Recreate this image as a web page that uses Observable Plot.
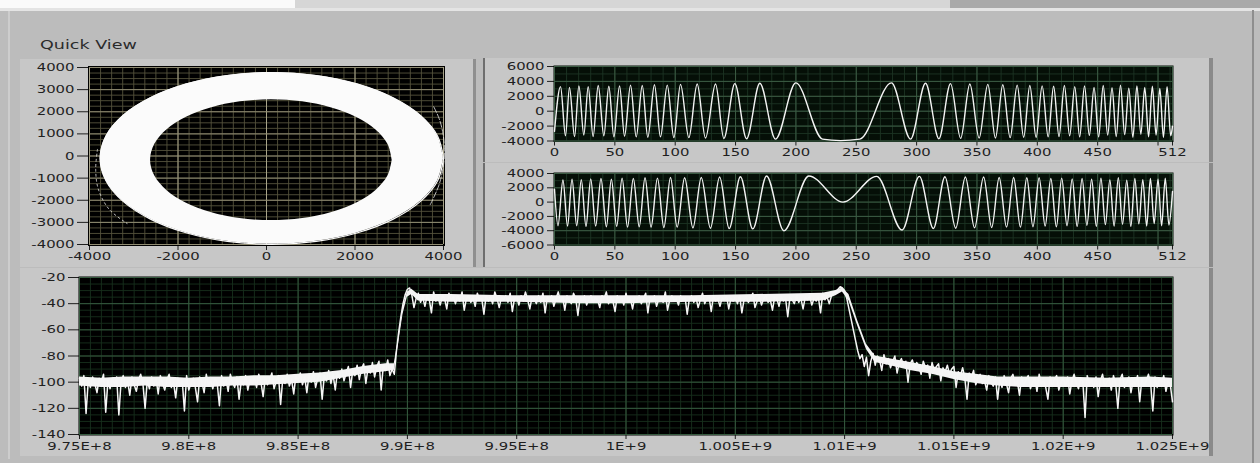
<!DOCTYPE html>
<html><head><meta charset="utf-8">
<script src="https://cdn.jsdelivr.net/npm/d3@7"></script>
<script src="https://cdn.jsdelivr.net/npm/@observablehq/plot@0.6"></script>
<style>
html,body{margin:0;padding:0;background:#bdbdbd;}
#root{position:relative;width:1260px;height:463px;overflow:hidden;background:#bcbcbc;font-family:"DejaVu Sans",sans-serif;}
.blk{position:absolute;}
</style></head>
<body><div id="root"></div>
<script>
// ---------------- DATA ----------------
// IQ constellation ring: outer and inner boundary points, closed loop
const iqOuterX = [4000,3868,3480,2863,2060,1125,120,-885,-1820,-2623,-3240,-3628,-3760,-3628,-3240,-2623,-1820,-885,120,1125,2060,2863,3480,3868,4000];
const iqOuterY = [-110,895,1830,2633,3250,3638,3770,3638,3250,2633,1830,895,-110,-1115,-2050,-2853,-3470,-3858,-3990,-3858,-3470,-2853,-2050,-1115,-110];
const iqInnerX = [2840,2747,2474,2040,1475,817,110,-597,-1255,-1820,-2254,-2527,-2620,-2527,-2254,-1820,-1255,-597,110,817,1475,2040,2474,2747,2840];
const iqInnerY = [-190,517,1175,1740,2174,2447,2540,2447,2174,1740,1175,517,-190,-897,-1555,-2120,-2554,-2827,-2920,-2827,-2554,-2120,-1555,-897,-190];
// stray traces just outside the ring (right side and lower left)
const iqTraceX = [3700,3900,4000,4020,3990,3900,3760];
const iqTraceY = [-2200,-1300,-400,300,1000,1700,2300];
const iqTrace2X = [-3820,-3860,-3800,-3560,-3150];
const iqTrace2Y = [300,-600,-1500,-2400,-3050];
const iqXTicks = [-4000,-2000,0,2000,4000];
const iqYTicks = [-4000,-3000,-2000,-1000,0,1000,2000,3000,4000];

// Time-domain waveform 1 (I): sample index of each turning point, and its value
const wave1Idx = [0,5,9.1,12.4,16.6,20.2,24.3,27.9,32,36.2,40.9,45,49.2,53.9,58,63,67.7,72.7,77.3,82.8,87.8,93.4,98.9,104.4,111.3,118.2,125.1,133.4,140.3,149.4,159.1,170.1,183.1,199.9,222,237,253,279.2,295,307.4,318.5,328.1,336.5,344.1,351.8,359,365.3,371.4,377.5,383.3,388.7,393.8,399,404,409,413.5,418,422.4,426.8,431,435.1,439.1,443.1,447,450.8,454.6,458.3,461.9,465.4,468.9,472.4,475.8,479.2,482.5,485.8,489,492.2,495.3,498.4,501.5,504.5,507.5,510.5,512];
const wave1Val = [-2700,3300,-3300,3200,-3400,3400,-3200,3300,-3400,3450,-3300,3350,-3450,3400,-3350,3500,-3450,3450,-3500,3550,-3450,3500,-3550,3600,-3550,3650,-3600,3650,-3650,3700,-3700,3750,-3750,3800,-3750,-3950,-3750,3800,-3750,3750,-3700,3700,-3650,3650,-3600,3600,-3600,3550,-3550,3500,-3500,3450,-3500,3400,-3450,3350,-3400,3450,-3300,3300,-3450,3400,-3250,3200,-3450,3450,-3200,3150,-3400,3500,-3150,3100,-3500,3400,-3100,3200,-3450,3350,-3200,3050,-3500,3300,-3300,-2000];
// Time-domain waveform 2 (Q)
const wave2Idx = [0,2.9,7,10.8,14.5,18.4,22.2,26.1,30,34.1,38.5,43,47.1,51.5,56,60.5,65.3,70.2,75,80,85.3,90.6,96.1,101.6,107.8,114.7,121.6,129.2,136.8,144.7,154,164.3,175.7,190,210.7,239,267,288,302.3,313.9,323.5,332.4,340.4,348,355.5,362.2,368.4,374.5,380.4,386,391.3,396.4,401.5,406.5,411.2,415.8,420.2,424.6,428.9,433,437.1,441.1,445,448.9,452.7,456.4,460.1,463.6,467.1,470.6,474.1,477.5,480.8,484.1,487.4,490.6,493.7,496.8,500,503,506,509,512];
const wave2Val = [1800,-3300,3100,-3350,3200,-3300,3150,-3400,3250,-3350,3300,-3450,3200,-3400,3350,-3500,3300,-3450,3400,-3500,3350,-3550,3450,-3500,3400,-3600,3450,-3650,3500,-3700,3550,-3750,3650,-4000,3650,0,3600,-3900,3600,-3700,3550,-3650,3500,-3600,3500,-3550,3450,-3500,3450,-3500,3400,-3450,3400,-3350,3300,-3450,3350,-3300,3250,-3400,3300,-3250,3200,-3400,3350,-3150,3100,-3350,3400,-3100,3050,-3400,3300,-3050,3150,-3350,3300,-3000,3200,-3300,3350,-3200,1500];
const waveXTicks = [0,50,100,150,200,250,300,350,400,450,500,512];
const waveXLabels = ["0","50","100","150","200","250","300","350","400","450","","512"];
const wave1YTicks = [-4000,-2000,0,2000,4000,6000];
const wave2YTicks = [-6000,-4000,-2000,0,2000,4000];

// Spectrum (dB), one value per 100 kHz bin starting at 975 MHz
const specStartHz = 9.75e8;
const specStepHz = 1e5;
const specDb = [
-97,-103,-95,-124,-99,-104,-96,-101,-108,-97,-100,-94,-123,-99,-105,-97,-102,-96,-125,-100,
-95,-104,-99,-110,-96,-102,-107,-98,-94,-101,-120,-99,-105,-96,-103,-97,-109,-95,-101,-106,
-98,-94,-104,-100,-112,-97,-103,-99,-122,-95,-106,-101,-97,-104,-115,-96,-100,-108,-94,-102,
-99,-105,-97,-101,-118,-95,-103,-98,-107,-94,-100,-104,-96,-113,-99,-102,-95,-106,-98,-101,
-97,-104,-94,-100,-111,-96,-102,-98,-93,-105,-99,-95,-117,-97,-101,-94,-103,-98,-109,-95,
-99,-93,-102,-96,-108,-94,-100,-92,-104,-97,-93,-113,-95,-99,-91,-101,-94,-106,-92,-97,
-90,-99,-93,-88,-104,-91,-95,-87,-98,-90,-86,-101,-89,-93,-85,-96,-88,-84,-106,-87,-91,-83,-95,-90,
-94,-76,-62,-50,-40,-33,-29,-28,-33,-43,
-36,-32,-39,-35,-42,-34,-37,-47,-31,-38,-35,-41,-34,-36,-44,-32,-37,-35,-40,-34,
-38,-31,-45,-36,-34,-39,-35,-42,-32,-37,-36,-48,-34,-38,-35,-40,-31,-36,-43,-35,
-37,-34,-39,-32,-46,-36,-35,-41,-34,-38,-31,-37,-44,-35,-36,-40,-34,-39,-32,-47,
-35,-37,-34,-42,-36,-31,-38,-35,-45,-34,-37,-40,-32,-36,-49,-35,-38,-34,-41,-36,
-34,-39,-35,-37,-43,-34,-36,-31,-40,-35,-38,-46,-34,-37,-35,-41,-32,-39,-36,-44,
-35,-37,-34,-40,-36,-32,-47,-35,-38,-34,-42,-36,-35,-39,-31,-45,-37,-34,-38,-36,
-41,-34,-37,-35,-48,-36,-34,-39,-35,-43,-37,-32,-40,-36,-35,-46,-34,-38,-36,-42,
-35,-37,-34,-44,-36,-38,-35,-40,-34,-47,-37,-35,-39,-36,-32,-43,-38,-35,-41,-36,
-34,-39,-37,-45,-35,-36,-42,-34,-38,-36,-50,-35,-37,-40,-34,-39,-36,-44,-35,-37,
-34,-41,-36,-38,-35,-47,-32,-37,-35,-40,-34,-31,
-31,-29,-27,-28,-30,-36,-44,-52,-60,-68,-76,-82,
-79,-88,-81,-95,-84,-78,-87,-80,-83,-91,-79,-86,-82,-89,-84,-80,-93,-85,-82,-88,
-84,-100,-86,-83,-90,-85,-88,-94,-84,-89,-87,-97,-85,-91,-88,-86,-99,-89,-92,-87,
-94,-90,-88,-104,-92,-95,-89,-97,-113,-93,-96,-91,-102,
-97,-94,-101,-99,-106,-95,-100,-103,-96,-113,-98,-104,-95,-101,-108,-97,-94,-102,-99,-110,
-96,-103,-98,-95,-105,-100,-97,-107,-94,-101,-99,-104,-113,-96,-102,-98,-95,-106,-100,-97,
-103,-96,-109,-99,-94,-101,-105,-97,-100,-127,-95,-102,-98,-104,-96,-111,-99,-94,-103,-100,
-97,-106,-95,-101,-120,-98,-94,-104,-100,-96,-108,-99,-102,-95,-115,-97,-103,-99,-94,-101,
-122,-96,-104,-98,-100,-95,-107,-99,-102,-115
];
// dense core of the noise trace (upper / lower edge of the solid white band)
const specBandHz = [9.75e8,9.76e8,9.77e8,9.78e8,9.79e8,9.80e8,9.81e8,9.82e8,9.83e8,9.84e8,9.85e8,9.86e8,9.87e8,9.88e8,9.89e8,9.894e8,9.896e8,9.898e8,9.900e8,9.902e8,9.905e8,9.92e8,9.95e8,9.98e8,1.0e9,1.003e9,1.006e9,1.009e9,1.0096e9,1.0099e9,1.0102e9,1.0106e9,1.011e9,1.0114e9,1.012e9,1.013e9,1.014e9,1.015e9,1.016e9,1.017e9,1.018e9,1.02e9,1.022e9,1.024e9,1.025e9];
const specBandHi = [-96,-97,-96,-96,-96,-97,-96,-96,-95,-95,-94,-93,-91,-88,-86,-86,-66,-43,-31,-29,-33,-33,-34,-34,-34,-34,-33,-32,-30,-28,-33,-53,-71,-80,-82,-85,-88,-92,-94,-96,-96,-96,-97,-96,-97];
const specBandLo = [-103,-104,-104,-103,-104,-104,-104,-103,-103,-102,-101,-100,-97,-94,-92,-91,-70,-48,-35,-33,-38,-39,-39,-40,-40,-39,-39,-38,-34,-31,-38,-57,-75,-85,-87,-91,-94,-98,-101,-103,-104,-104,-104,-104,-104];
const specXTicks = [9.75e8,9.8e8,9.85e8,9.9e8,9.95e8,1e9,1.005e9,1.01e9,1.015e9,1.02e9,1.025e9];
const specXLabels = ["9.75E+8","9.8E+8","9.85E+8","9.9E+8","9.95E+8","1E+9","1.005E+9","1.01E+9","1.015E+9","1.02E+9","1.025E+9"];
const specYTicks = [-140,-120,-100,-80,-60,-40,-20];

// ---------------- RENDER ----------------
const root = document.getElementById("root");
const STRETCH = 1.35;
const baseStyle = {background: "none", color: "#1f1f1f", fontSize: "11px", fontFamily: "DejaVu Sans, sans-serif", overflow: "visible"};

function box(l, t, w, h, css) {
  const d = document.createElement("div");
  d.className = "blk";
  Object.assign(d.style, {left: l + "px", top: t + "px", width: w + "px", height: h + "px"}, css || {});
  root.appendChild(d);
  return d;
}
// widen glyphs (the reference screenshot is horizontally stretched) without moving anchors
function stretchText(svg) {
  svg.querySelectorAll("text").forEach(t => {
    const L = t.getComputedTextLength();
    if (L > 0) {
      t.setAttribute("textLength", (L * STRETCH).toFixed(2));
      t.setAttribute("lengthAdjust", "spacingAndGlyphs");
    }
  });
}
function place(svg, l, t) {
  svg.style.position = "absolute";
  svg.style.left = l + "px";
  svg.style.top = t + "px";
  root.appendChild(svg);
  stretchText(svg);
}
const fmt = d => String(d);

// panel chrome
box(0, 0, 295, 9, {background: "#fafafa"});
box(295, 0, 655, 8, {background: "#d6d6d6"});
box(950, 0, 310, 8, {background: "#a9a9a9"});
box(0, 8, 1260, 3, {background: "#e4e4e4"});
box(1252, 10, 2, 453, {background: "#8e8e8e"});
box(8, 11, 2, 448, {background: "#cdcdcd"});
const title = box(40, 37, 200, 18, {color: "#2b2b2b", fontSize: "13px", transform: `scaleX(${STRETCH})`, transformOrigin: "left top", whiteSpace: "nowrap"});
title.textContent = "Quick View";
box(20, 59, 456, 208, {background: "#c7c7c7", borderRight: "3px solid #8f8f8f", boxSizing: "border-box"});
box(483, 58, 730, 104, {background: "#c7c7c7", borderLeft: "2px solid #6e6e6e", borderRight: "4px solid #8a8a8a", boxSizing: "border-box"});
box(483, 163, 730, 104, {background: "#c7c7c7", borderLeft: "2px solid #6e6e6e", borderRight: "4px solid #8a8a8a", boxSizing: "border-box"});
box(20, 268, 1193, 188, {background: "#c7c7c7", borderRight: "4px solid #8a8a8a", boxSizing: "border-box"});

// IQ constellation
const iqPlot = Plot.plot({
  width: 456, height: 210,
  marginLeft: 69, marginRight: 33, marginTop: 9, marginBottom: 24,
  style: baseStyle,
  x: {domain: [-4000, 4000], ticks: iqXTicks, tickFormat: fmt, tickSize: 6, tickPadding: 2, label: null},
  y: {domain: [-4000, 4000], ticks: iqYTicks, tickFormat: fmt, tickSize: 12, tickPadding: 3, label: null},
  marks: [
    Plot.frame({fill: "#000", inset: -1.5}),
    Plot.ruleX(d3.range(-4000, 4001, 250), {stroke: "#55523c", strokeWidth: 0.9}),
    Plot.ruleY(d3.range(-4000, 4001, 250), {stroke: "#55523c", strokeWidth: 0.9}),
    Plot.ruleX(iqXTicks, {stroke: "#a8a48a", strokeWidth: 1}),
    Plot.ruleY(iqYTicks, {stroke: "#8f8b72", strokeWidth: 1}),
    Plot.area(iqOuterX, {x1: iqOuterX, y1: iqOuterY, x2: iqInnerX, y2: iqInnerY, curve: "catmull-rom", fill: "#fbfbfb"}),
    Plot.line(iqOuterX, {x: iqOuterX, y: iqOuterY, curve: "catmull-rom", stroke: "#fbfbfb", strokeWidth: 1.2}),
    Plot.line(iqTraceX, {x: iqTraceX, y: iqTraceY, curve: "catmull-rom", stroke: "#e8e8e8", strokeWidth: 0.8, strokeDasharray: "6,2"}),
    Plot.line(iqTrace2X, {x: iqTrace2X, y: iqTrace2Y, curve: "catmull-rom", stroke: "#e8e8e8", strokeWidth: 0.8, strokeDasharray: "2,3"})
  ]
});
place(iqPlot, 20, 58);

function wavePlot(idx, val, yTicks, yDomain, mTop, mBottom, h) {
  return Plot.plot({
    width: 728, height: h,
    marginLeft: 70, marginRight: 40, marginTop: mTop, marginBottom: mBottom,
    style: baseStyle,
    x: {domain: [0, 512], ticks: waveXTicks, tickFormat: d => waveXLabels[waveXTicks.indexOf(d)], tickSize: 5, tickPadding: 2, label: null},
    y: {domain: yDomain, ticks: yTicks, tickFormat: fmt, tickSize: 7, tickPadding: 3, label: null},
    marks: [
      Plot.frame({fill: "#050f07", inset: -1}),
      Plot.ruleX(d3.range(0, 513, 10), {stroke: "#1d3424", strokeWidth: 0.9}),
      Plot.ruleY(d3.range(yDomain[0], yDomain[1] + 1, 1000), {stroke: "#1d3424", strokeWidth: 0.9}),
      Plot.ruleX(waveXTicks, {stroke: "#3c5c44", strokeWidth: 1}),
      Plot.ruleY(yTicks, {stroke: "#3c5c44", strokeWidth: 1}),
      Plot.line(idx, {x: idx, y: val, curve: "monotone-x", stroke: "#f4f4f4", strokeWidth: 1.4})
    ]
  });
}
place(wavePlot(wave1Idx, wave1Val, wave1YTicks, [-4000, 6000], 8, 21.5, 104), 484, 58);
place(wavePlot(wave2Idx, wave2Val, wave2YTicks, [-6000, 4000], 10, 21.5, 103), 484, 163);

// Spectrum
const specHz = specDb.map((_, i) => specStartHz + i * specStepHz);
const specPlot = Plot.plot({
  width: 1190, height: 187,
  marginLeft: 57, marginRight: 40, marginTop: 9, marginBottom: 21,
  style: baseStyle,
  x: {domain: [9.75e8, 1.025e9], ticks: specXTicks, tickFormat: d => specXLabels[specXTicks.indexOf(d)], tickSize: 5, tickPadding: 3, label: null},
  y: {domain: [-140, -20], ticks: specYTicks, tickFormat: fmt, tickSize: 11, tickPadding: 3, label: null},
  marks: [
    Plot.frame({fill: "#000", inset: -1}),
    Plot.ruleX(d3.range(9.75e8, 1.025e9 + 1, 5e5), {stroke: "#17301d", strokeWidth: 0.9}),
    Plot.ruleY(d3.range(-140, -19, 5), {stroke: "#17301d", strokeWidth: 0.9}),
    Plot.ruleX(specXTicks, {stroke: "#365a3f", strokeWidth: 1}),
    Plot.ruleY(specYTicks, {stroke: "#365a3f", strokeWidth: 1}),
    Plot.areaY(specBandHz, {x: specBandHz, y1: specBandLo, y2: specBandHi, fill: "#f4f4f4"}),
    Plot.line(specDb, {x: specHz, y: specDb, stroke: "#f6f6f6", strokeWidth: 1.5})
  ]
});
place(specPlot, 22, 268);
</script></body></html>
